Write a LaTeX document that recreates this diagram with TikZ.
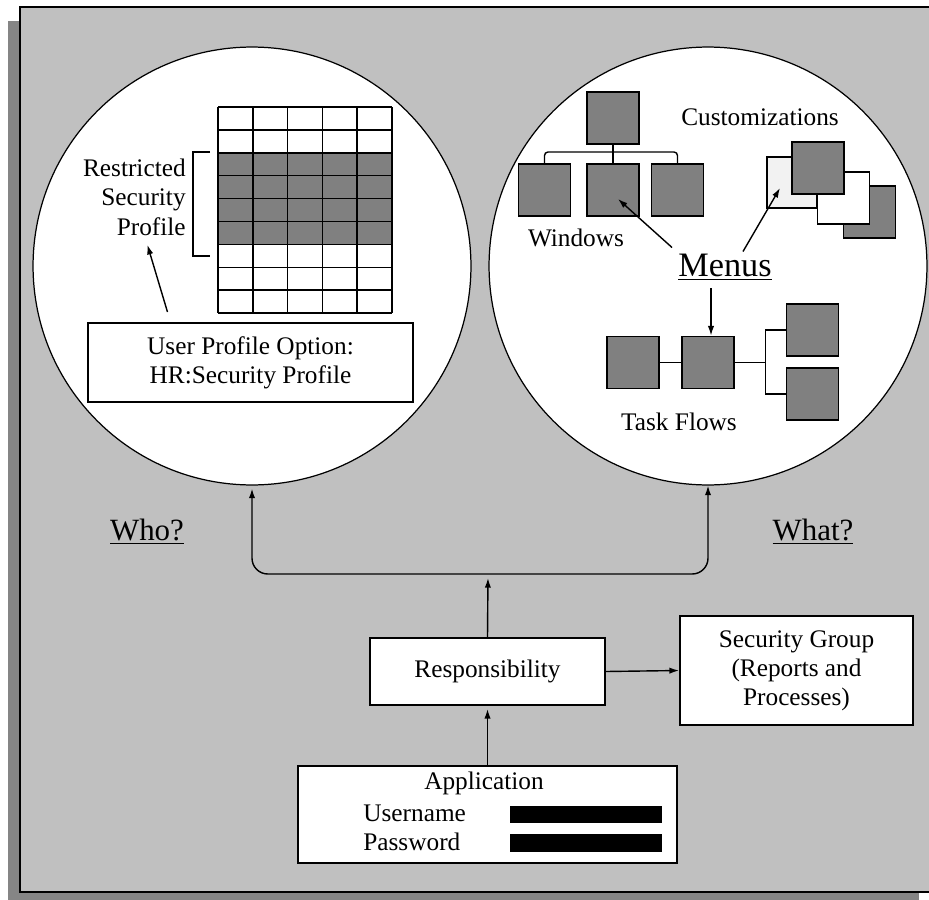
\documentclass[tikz,border=0pt]{standalone}
\usepackage{fontspec}
\setmainfont{Liberation Serif}
\usetikzlibrary{arrows.meta,calc}
\definecolor{panelgray}{HTML}{C0C0C0}
\definecolor{shadowgray}{HTML}{858585}
\definecolor{boxgray}{HTML}{808080}
\definecolor{lightbox}{HTML}{F2F2F2}

\begin{document}
\begin{tikzpicture}[x=0.02cm,y=-0.02cm,inner sep=0pt,
    font=\fontsize{14.4}{16.6}\selectfont,
    >={Latex[length=5.5pt,width=3.6pt]},
    link/.style={line width=0.8pt},
    textbox/.style={draw,fill=white,line width=1.1pt,align=center},
    sqbox/.style={draw,fill=boxgray,line width=1pt,minimum size=1.04cm},
    bubble/.style={circle,draw,fill=white,line width=0.7pt,minimum size=8.76cm},
    qlabel/.style={font=\fontsize{17.6}{20}\selectfont}]
    \useasboundingbox (0,0) rectangle (929,899);
    \fill[white] (0,0) rectangle (929,899);
    % frame and shadow
    \fill[shadowgray] (8,21) rectangle (919,905);
    \draw[line width=1.2pt,fill=panelgray] (20,7) rectangle (945,892);

    \node[bubble] (who) at (252,266) {};
    \node[bubble] (what) at (708,266) {};

    % who: security profile grid
    \fill[boxgray] (218,{107+2*22.9}) rectangle (392,{107+6*22.9});
    \foreach \i in {0,...,5}
      \draw[line width=0.9pt] ({218+34.8*\i},107) -- ({218+34.8*\i},313);
    \foreach \j in {0,...,9}
      \draw[line width=0.9pt] (218,{107+22.9*\j}) -- (392,{107+22.9*\j});
    \draw[line width=1.7pt] (210,152) -- (193,152) -- (193,256) -- (210,256);

    \node[anchor=east,align=right,font=\fontsize{14.4}{16.8}\selectfont] (rsp) at (186,197)
      {Restricted\\Security\\Profile};
    \node[textbox,minimum width=6.5cm,minimum height=1.58cm] (upo) at (250.5,362.5)
      {User Profile Option:\\HR:Security Profile};
    \draw[link,->] ($(upo.north)+(-83,-10)$) -- ($(rsp.south)+(13,9)$);

    % what: windows, customizations, task flows
    \node[sqbox] (w0) at (613,118) {};
    \node[sqbox] (w1) at (544.5,190) {};
    \node[sqbox] (w2) at (613,190) {};
    \node[sqbox] (w3) at (677.5,190) {};
    \coordinate (wbar) at (613,152);
    \draw[link,rounded corners=2pt] (w1.north) |- (wbar) -| (w3.north);
    \draw[link] (w0.south) -- (w2.north);
    \node (winlbl) at (576,238) {Windows};

    \node (custlbl) at (760,117) {Customizations};
    \node[sqbox,fill=lightbox,minimum width=1.0cm,minimum height=1.02cm] (c1) at (792,182.5) {};
    \node[sqbox] (c4) at (869.5,212) {};
    \node[sqbox,fill=white] (c3) at (843.5,198) {};
    \node[sqbox] (c2) at (818,168) {};

    \node[font=\fontsize{19.5}{22}\selectfont] (menus) at (725,267) {\underline{Menus}};

    \node[sqbox] (t1) at (633,362.5) {};
    \node[sqbox] (t2) at (708,362.5) {};
    \node[sqbox] (t3) at (812.5,330) {};
    \node[sqbox] (t4) at (812.5,394) {};
    \draw[link] (t1) -- (t2);
    \draw[link] (t3.west) -- ++(-20,0) coordinate (tfork) |- (t4.west);
    \draw[link] (t2.east) -- (t2.east -| tfork);
    \node (tflbl) at (679,422) {Task Flows};

    \draw[link,->] ($(menus.north west)+(-6,-6)$) -- ($(w2.center)+(5,9)$);
    \draw[link,->] ($(menus.north)+(18,-2)$) -- ($(c1.center)+(-12,5.5)$);
    \draw[link,->] ($(menus.south -| t2.north)+(3,8)$) -- ($(t2.north)+(3,0)$);

    % bottom part
    \node[qlabel] (wholbl) at (147,532) {\underline{Who?}};
    \node[qlabel] (whatlbl) at (813,532) {\underline{What?}};

    \node[textbox,minimum width=4.7cm,minimum height=1.34cm] (resp) at (487.5,671.5) {Responsibility};
    \node[textbox,minimum width=4.66cm,minimum height=2.18cm] (secgrp) at (796.5,670.5)
      {Security Group\\(Reports and\\Processes)};
    \node[textbox,minimum width=7.58cm,minimum height=1.94cm] (app) at (487.5,814.5) {};
    \node (applbl) at (484,783) {Application};
    \node[anchor=west] (user) at (363,813) {Username};
    \node[anchor=west] (pass) at (363,842) {Password};
    \node[fill=black,minimum width=3.04cm,minimum height=0.34cm] (userbar) at (586,814.5) {};
    \node[fill=black,minimum width=3.04cm,minimum height=0.36cm] (passbar) at (586,843) {};

    \coordinate (jn) at (488,574);
    \draw[link,<->,rounded corners=9pt,shorten <=0.06cm] (who.south) |- (jn) -| (what.south);
    \draw[link,->,shorten >=0.08cm] (resp.north) -- (jn);
    \draw[link,->,shorten >=0.06cm] (app.north) -- (resp.south);
    \draw[link,->] (resp.east) -- (secgrp.west);
\end{tikzpicture}
\end{document}
